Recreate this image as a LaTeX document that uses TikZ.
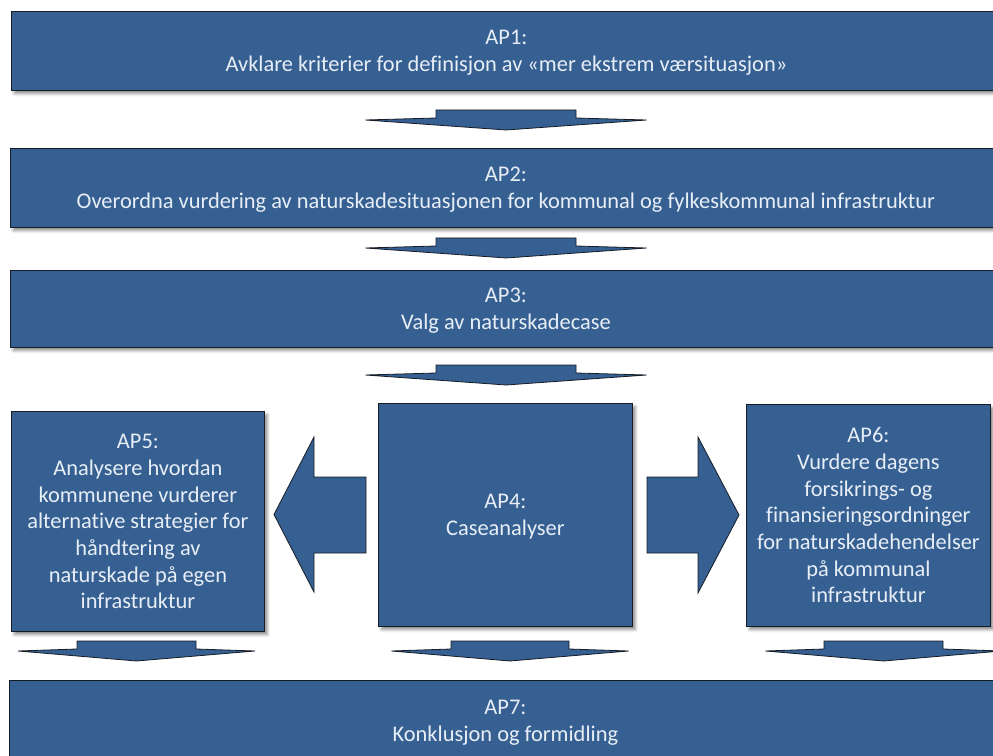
\documentclass[tikz,border=0pt]{standalone}
\usepackage{fontspec}
\setmainfont{Carlito}[Ligatures=NoCommon]
\usetikzlibrary{shadows.blur}
\definecolor{boxblue}{RGB}{54,96,146}
\definecolor{boxline}{RGB}{22,28,38}
\definecolor{boxtext}{RGB}{232,238,246}
\newcommand\aptop{\rule{0pt}{14.5pt}}
\newcommand\apbot{\rule[-3.4pt]{0pt}{0pt}}
\tikzset{
  apbox/.style={draw=boxline, line width=0.6pt, fill=boxblue, text=boxtext,
    align=center, inner sep=0pt, anchor=north west,
    font=\fontsize{16.8}{20}\selectfont,
    blur shadow={shadow xshift=2.2pt, shadow yshift=-2.4pt, shadow blur radius=2.2pt, shadow opacity=45}},
  blockarrow/.style={draw=boxline, line width=0.6pt, fill=boxblue, line join=miter},
}
% cx, ytop, bar half width, wing half width
\newcommand\mychev[4]{%
  \draw[blockarrow] ({#1-#3},#2) -- ({#1+#3},#2) -- ({#1+#3},{#2+8}) -- ({#1+#4},{#2+10})
    -- (#1,{#2+20}) -- ({#1-#4},{#2+10}) -- ({#1-#3},{#2+8}) -- cycle;}
\begin{document}
\begin{tikzpicture}[x=0.75pt, y=-0.75pt]
\useasboundingbox (0,0) rectangle (993,756);
\clip (0,0) rectangle (993,756);
\node[apbox, minimum width=990*0.75pt, minimum height=79*0.75pt] (ap1) at (11,11)
  {\aptop AP1:\\Avklare kriterier for definisjon av «mer ekstrem værsituasjon»\apbot};
\node[apbox, minimum width=991*0.75pt, minimum height=79*0.75pt] (ap2) at (10,148)
  {\aptop AP2:\\Overordna vurdering av naturskadesituasjonen for kommunal og fylkeskommunal infrastruktur\apbot};
\node[apbox, minimum width=991*0.75pt, minimum height=77*0.75pt] (ap3) at (10,270)
  {\aptop AP3:\\Valg av naturskadecase\apbot};
\node[apbox, minimum width=254*0.75pt, minimum height=223*0.75pt] (ap4) at (378,403)
  {\aptop AP4:\\Caseanalyser\apbot};
\node[apbox, minimum width=253*0.75pt, minimum height=220*0.75pt] (ap5) at (11,411)
  {\aptop AP5:\\Analysere hvordan\\kommunene vurderer\\alternative strategier for\\håndtering av\\naturskade på egen\\infrastruktur\apbot};
\node[apbox, minimum width=244*0.75pt, minimum height=222*0.75pt] (ap6) at (746,404)
  {\aptop AP6:\\Vurdere dagens\\forsikrings- og\\finansieringsordninger\\for naturskadehendelser\\på kommunal\\infrastruktur\apbot};
\node[apbox, minimum width=992*0.75pt, minimum height=80*0.75pt] (ap7) at (9,680)
  {\aptop AP7:\\Konklusjon og formidling\apbot};
% down chevrons
\mychev{506}{110}{70}{140.5}
\mychev{506}{238}{70}{140.5}
\mychev{506}{365}{70}{140.5}
\mychev{136.5}{641}{59.5}{118.5}
\mychev{510}{641}{59}{118.5}
\mychev{883.5}{641}{59.5}{118}
% left and right block arrows
\draw[blockarrow] (366,477) -- (314,477) -- (314,437) -- (274,514.5) -- (314,592) -- (314,553) -- (366,553) -- cycle;
\draw[blockarrow] (647,477) -- (698,477) -- (698,437) -- (739,515) -- (698,593) -- (698,553) -- (647,553) -- cycle;
\end{tikzpicture}
\end{document}
